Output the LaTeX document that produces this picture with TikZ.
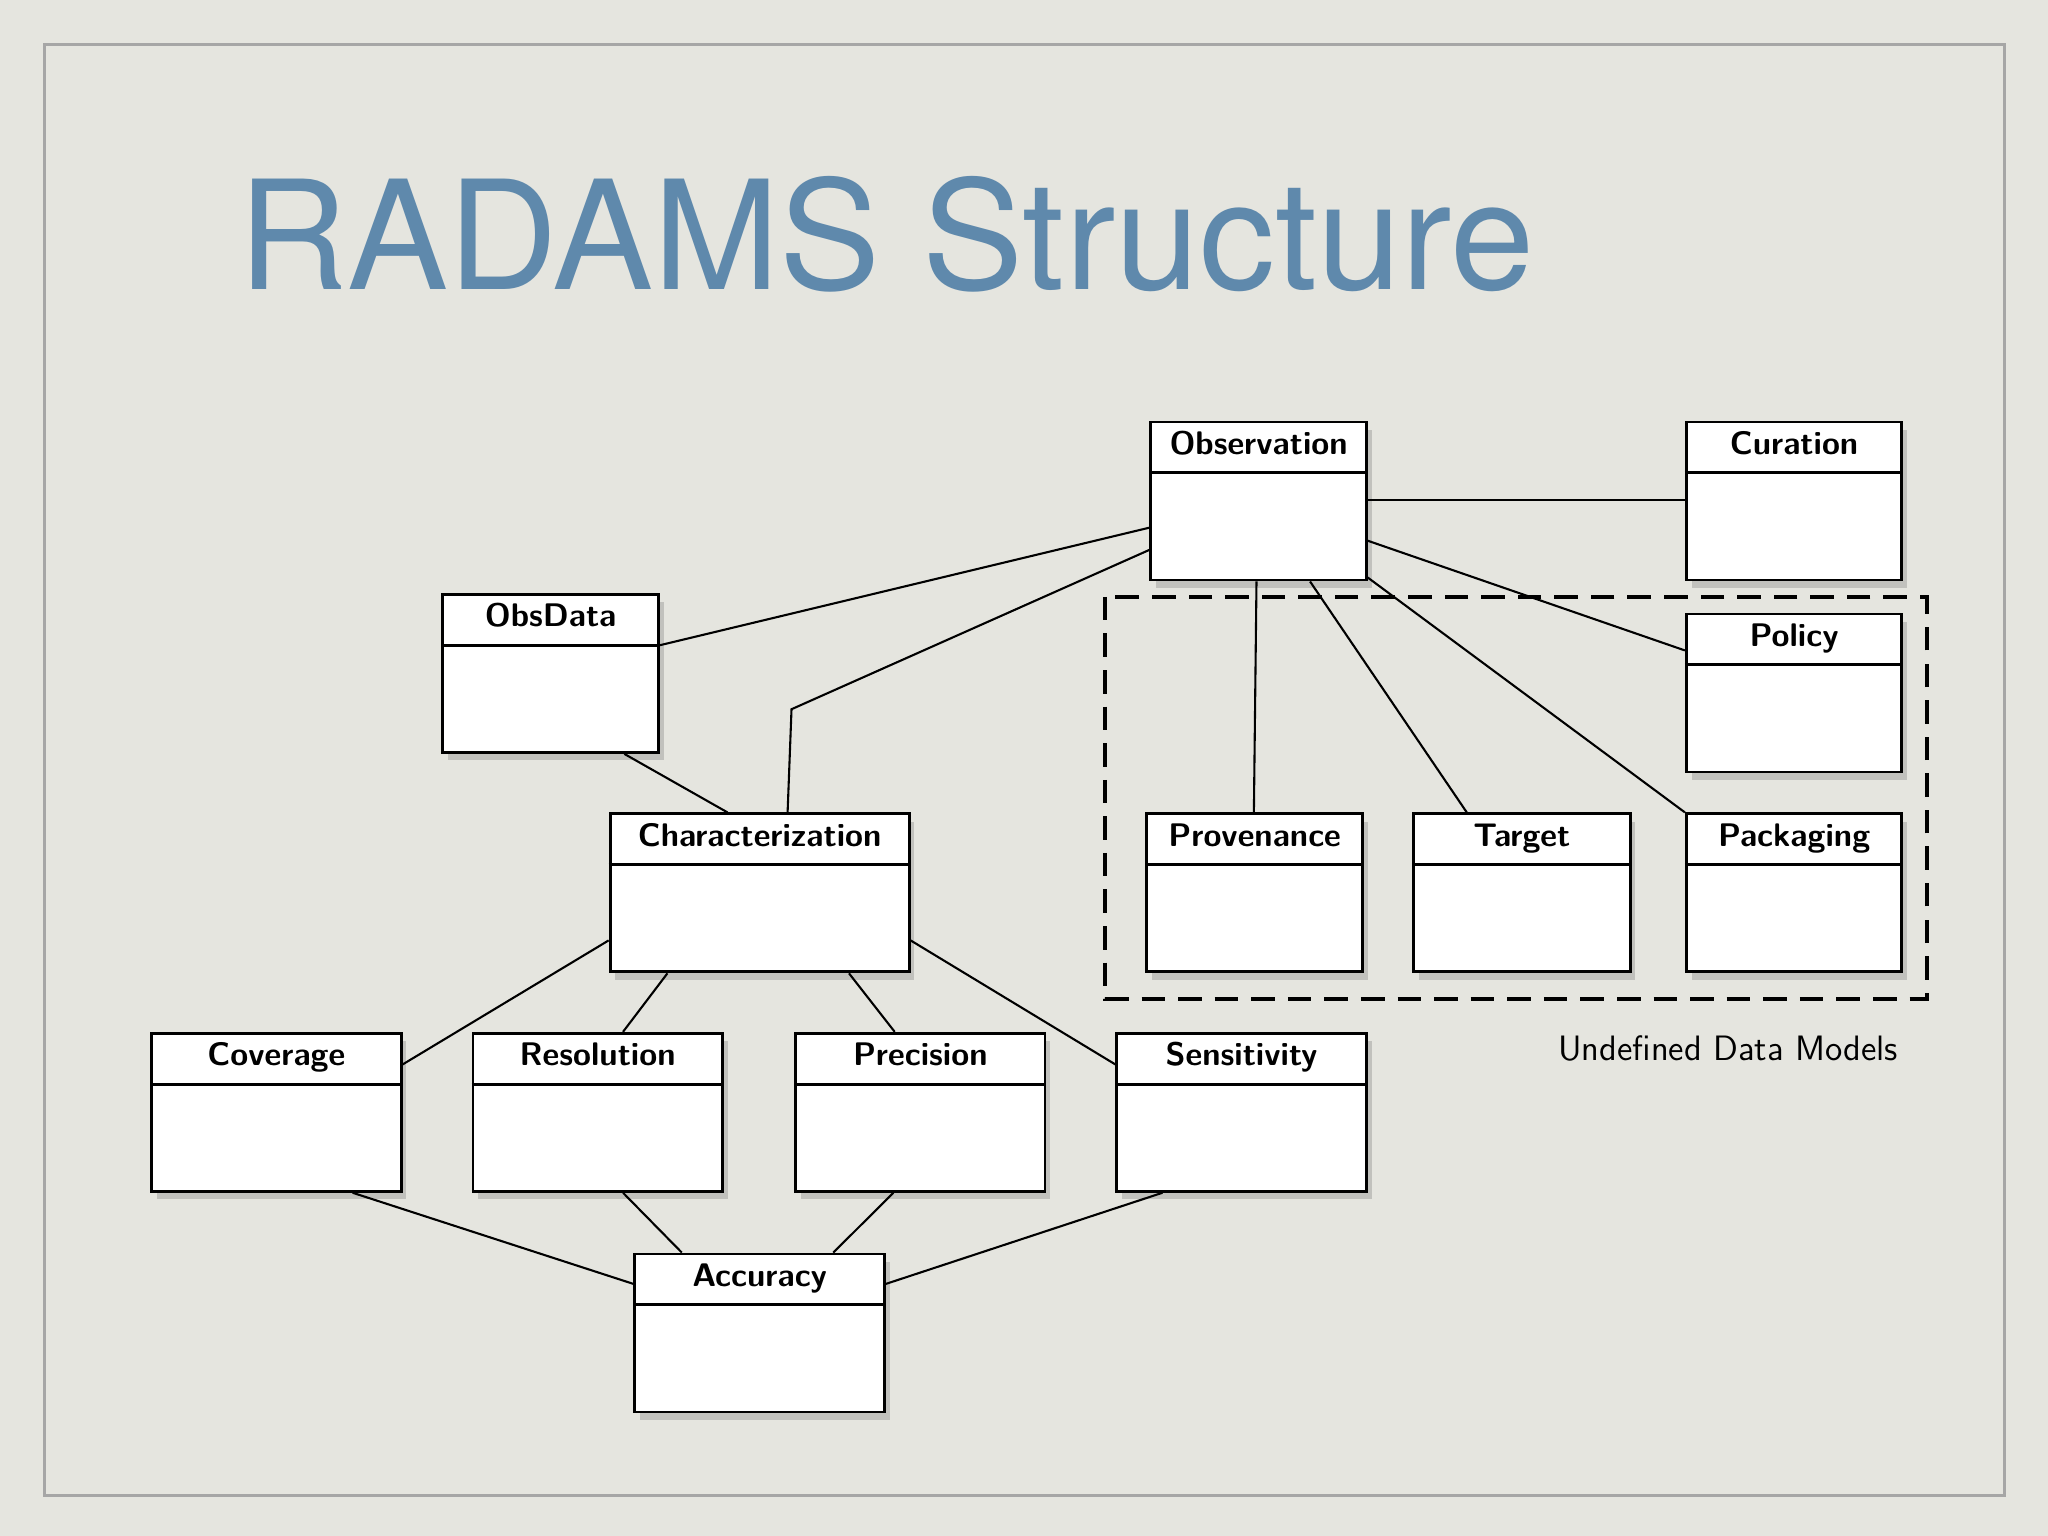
\documentclass[tikz,border=0pt]{standalone}
\usepackage{fontspec}
\newfontfamily\titlefont{TeX Gyre Heros}
\usetikzlibrary{calc,shadows}
\definecolor{bg}{HTML}{E5E5DF}
\definecolor{titleblue}{HTML}{5F89AC}
\tikzset{
  cls/.style={draw=black,line width=1.1pt,fill=white,anchor=north west,inner sep=0pt,
    minimum height=60.5pt,drop shadow={shadow xshift=2pt,shadow yshift=-3pt,opacity=0.35}},
  lbl/.style={anchor=north,font=\sffamily\bfseries\fontsize{12.5}{14}\selectfont,inner sep=0pt},
  conn/.style={line width=0.8pt},
}
\newcommand{\umlbox}[5]{%
  \node[cls,minimum width=#4*0.5pt] (#1) at (#2,#3) {};
  \draw[line width=1.1pt] ($(#1.north west)+(0,40)$) -- ($(#1.north east)+(0,40)$);
  \node[lbl] (#1-t) at ($(#1.north)+(0,6)$) {\strut #5};
}
\begin{document}
\begin{tikzpicture}[x=0.5pt,y=-0.5pt]
\useasboundingbox (0,0) rectangle (1568,1176);
\fill[bg] (0,0) rectangle (1568,1176);
\draw[gray!70,line width=1.2pt] (34,34) rectangle (1535,1145);
\node[anchor=base west,inner sep=0pt,text=titleblue,font=\titlefont\fontsize{58}{68}\selectfont] (title) at (182,222) {RADAMS Structure};

\draw[line width=1.5pt,dash pattern=on 9pt off 5pt] (846,457) coordinate (d1) rectangle (1475,765) coordinate (d2);
\node[anchor=center,font=\sffamily\fontsize{13.5}{15}\selectfont,inner sep=0pt] (udm) at (1323,803) {Undefined Data Models};

\umlbox{obs}{880}{322}{165}{Observation}
\umlbox{cur}{1290}{322}{165}{Curation}
\umlbox{obsd}{338}{454}{165}{ObsData}
\umlbox{pol}{1290}{469}{165}{Policy}
\umlbox{char}{466}{622}{229}{Characterization}
\umlbox{prov}{877}{622}{165}{Provenance}
\umlbox{tgt}{1081}{622}{166}{Target}
\umlbox{pack}{1290}{622}{165}{Packaging}
\umlbox{cov}{115}{790}{191}{Coverage}
\umlbox{res}{361}{790}{191}{Resolution}
\umlbox{pre}{608}{790}{191}{Precision}
\umlbox{sen}{854}{790}{191}{Sensitivity}
\umlbox{acc}{485}{959}{191}{Accuracy}

\begin{scope}[conn]
\draw ($(obs.north west)+(0,82)$) -- ($(obsd.north east)+(0,40)$);
\draw ($(obs.north west)+(0,99)$) -- (606,543) coordinate (bend) -- ($(char.north west)+(137,0)$);
\draw ($(obs.north east)+(0,61)$) -- ($(cur.north west)+(0,61)$);
\draw ($(obs.north east)+(0,92)$) -- ($(pol.north west)+(0,29)$);
\draw ($(obs.south west)+(82,0)$) -- ($(prov.north west)+(83,0)$);
\draw ($(obs.south west)+(123,0)$) -- ($(tgt.north west)+(42,0)$);
\draw ($(obs.south east)+(0,-3)$) -- ($(pack.north west)+(0,0)$);
\draw ($(obsd.south west)+(140,0)$) -- ($(char.north west)+(91,0)$);
\draw ($(char.north west)+(0,98)$) -- ($(cov.north east)+(0,25)$);
\draw ($(char.south west)+(45,0)$) -- ($(res.north west)+(116,0)$);
\draw ($(char.south west)+(184,0)$) -- ($(pre.north west)+(77,0)$);
\draw ($(char.north east)+(0,98)$) -- ($(sen.north west)+(0,25)$);
\draw ($(cov.south west)+(155,0)$) -- ($(acc.north west)+(0,24)$);
\draw ($(res.south west)+(116,0)$) -- ($(acc.north west)+(37,0)$);
\draw ($(pre.south west)+(76,0)$) -- ($(acc.north west)+(153,0)$);
\draw ($(sen.south west)+(36,0)$) -- ($(acc.north east)+(0,24)$);
\end{scope}
\end{tikzpicture}
\end{document}
